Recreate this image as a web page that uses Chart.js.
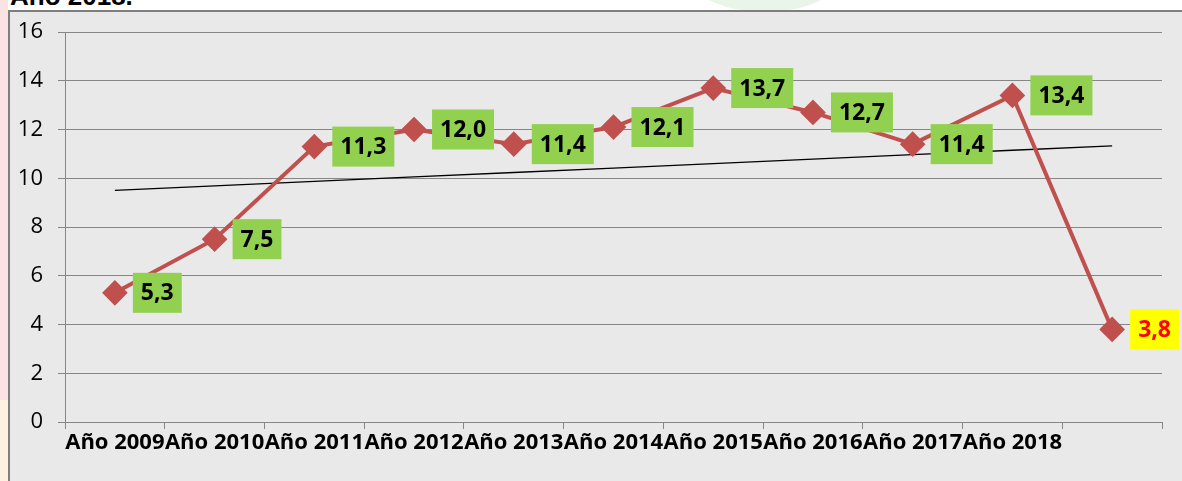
<!DOCTYPE html>
<html>
<head>
<meta charset="utf-8">
<script src="https://cdn.jsdelivr.net/npm/chart.js@4"></script>
<style>
  html, body { margin: 0; padding: 0; background: #ffffff; overflow: hidden; }
  body { width: 1182px; height: 481px; position: relative; }
  .strip-pink { position: absolute; left: 0; top: 0; width: 8px; height: 400px; background: #fbe3e3; }
  .strip-peach { position: absolute; left: 0; top: 400px; width: 8px; height: 81px; background: #fdf1e2; }
  .blob { position: absolute; left: 690px; top: -60px; width: 150px; height: 72px; border-radius: 50%; background: #eaf5ea; }
  .title { position: absolute; left: 10px; top: -19px; font: bold 26px "Liberation Sans", Arial, sans-serif; color: #000; white-space: nowrap; }
  .frame { position: absolute; left: 8px; top: 10px; width: 1180px; height: 480px; border-left: 2px solid #7f7f7f; border-top: 2px solid #7f7f7f; }
  #chartWrap { position: absolute; left: 10px; top: 12px; width: 1172px; height: 469px; }
</style>
</head>
<body>
<div class="strip-pink"></div>
<div class="strip-peach"></div>
<div class="blob"></div>
<div class="title">Año 2018.</div>
<div class="frame"></div>
<div id="chartWrap"><canvas id="chart"></canvas></div>
<script>
  const categories = ["Año 2009", "Año 2010", "Año 2011", "Año 2012", "Año 2013", "Año 2014",
    "Año 2015", "Año 2016", "Año 2017", "Año 2018", ""];
  const values = [5.3, 7.5, 11.3, 12.0, 11.4, 12.1, 13.7, 12.7, 11.4, 13.4, 3.8];
  const yTicks = [0, 2, 4, 6, 8, 10, 12, 14, 16];

  // linear trend line (least squares) over the series, like the Excel trendline
  function trendOf(arr) {
    const n = arr.length;
    const mx = (n - 1) / 2;
    const my = arr.reduce((a, b) => a + b, 0) / n;
    let sxy = 0, sxx = 0;
    arr.forEach((v, i) => { sxy += (i - mx) * (v - my); sxx += (i - mx) * (i - mx); });
    const slope = sxy / sxx;
    return arr.map((v, i) => my + slope * (i - mx));
  }
  const trend = trendOf(values);

  const bgPlugin = {
    id: "bg",
    beforeDraw(chart) {
      const ctx = chart.ctx;
      ctx.save();
      ctx.fillStyle = "#e9e9e9";
      ctx.fillRect(0, 0, chart.width, chart.height);
      ctx.restore();
    }
  };

  // value boxes to the right of each point
  const labelPlugin = {
    id: "valueBoxes",
    afterDatasetsDraw(chart) {
      const ctx = chart.ctx;
      const meta = chart.getDatasetMeta(0);
      ctx.save();
      ctx.font = "bold 23px 'Open Sans'";
      ctx.textBaseline = "middle";
      ctx.textAlign = "center";
      meta.data.forEach((pt, i) => {
        const txt = values[i].toFixed(1).replace(".", ",");
        const last = i === values.length - 1;
        const w = ctx.measureText(txt).width + 16;
        const h = 40;
        const x = pt.x + 18;
        const y = pt.y - h / 2;
        ctx.fillStyle = last ? "#ffff00" : "#92d050";
        ctx.fillRect(x, y, w, h);
        ctx.fillStyle = last ? "#ff0000" : "#000000";
        ctx.fillText(txt, x + w / 2, pt.y + 1);
      });
      ctx.restore();
    }
  };

  new Chart(document.getElementById("chart"), {
    type: "line",
    data: {
      labels: categories,
      datasets: [
        {
          data: values,
          borderColor: "#c0504d",
          backgroundColor: "#c0504d",
          borderWidth: 4,
          pointStyle: "rectRot",
          pointRadius: 10,
          pointBorderColor: "#c0504d",
          pointBackgroundColor: "#c0504d",
          tension: 0
        },
        {
          data: trend,
          borderColor: "#000000",
          borderWidth: 1.3,
          pointRadius: 0,
          tension: 0
        }
      ]
    },
    options: {
      responsive: true,
      maintainAspectRatio: false,
      animation: false,
      layout: { padding: { top: 20, right: 20, left: 0, bottom: 0 } },
      plugins: {
        legend: { display: false },
        tooltip: { enabled: false }
      },
      scales: {
        x: {
          offset: true,
          grid: { drawOnChartArea: false, drawTicks: true, tickLength: 7, color: "#868686", offset: true },
          border: { color: "#868686", width: 1 },
          ticks: {
            color: "#000",
            font: { family: "'Open Sans'", size: 22, weight: "bold" },
            maxRotation: 0,
            autoSkip: false,
            padding: 1
          },
          afterFit(scale) { scale.height = 59; }
        },
        y: {
          min: 0,
          max: 16,
          afterBuildTicks(scale) { scale.ticks = yTicks.map(v => ({ value: v })); },
          grid: { color: "#868686", tickLength: 7, lineWidth: 1 },
          border: { color: "#868686", width: 1 },
          ticks: {
            color: "#000",
            font: { family: "'Open Sans'", size: 22 },
            padding: 15
          },
          afterFit(scale) { scale.width = 55; scale.paddingTop = 0; scale.paddingBottom = 0; }
        }
      }
    },
    plugins: [bgPlugin, labelPlugin]
  });
</script>
</body>
</html>
